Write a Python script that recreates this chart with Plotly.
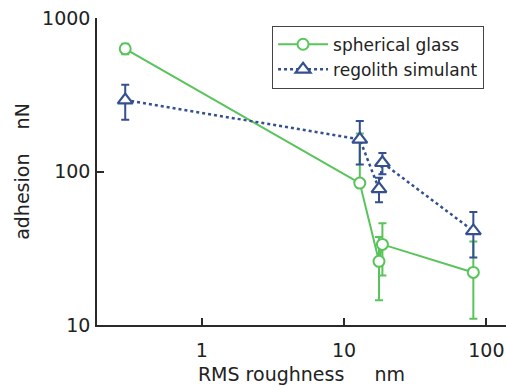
import plotly.graph_objects as go

# data
roughness = [0.29, 12.9, 17.6, 18.6, 81]
glass = [630, 84, 26, 33.5, 22]
glass_err_plus = [50, 93, 11.5, 12.5, 13]
glass_err_minus = [50, 0, 11.5, 12.5, 11]
regolith = [292, 162, 77, 114, 41]
regolith_err = [75, 51, 14, 18, 13.5]

x_tickvals = [1, 10, 100]
x_ticktext = ["1", "10", "100"]
y_tickvals = [10, 100, 1000]
y_ticktext = ["10", "100", "1000"]

GREEN = "#58c45a"
BLUE = "#34508f"
AXIS = "#2a2a2a"
FONT = "DejaVu Sans"

fig = go.Figure()
fig.add_trace(go.Scatter(
    x=roughness, y=glass, name="spherical glass", mode="lines+markers",
    line=dict(color=GREEN, width=2),
    marker=dict(symbol="circle", size=11, color="white", line=dict(color=GREEN, width=2)),
    error_y=dict(type="data", symmetric=False, array=glass_err_plus, arrayminus=glass_err_minus,
                 color=GREEN, thickness=2, width=4),
))
fig.add_trace(go.Scatter(
    x=roughness, y=regolith, name="regolith simulant", mode="lines+markers",
    line=dict(color=BLUE, width=2.5, dash="dot"),
    marker=dict(symbol="triangle-up", size=13, color="white", line=dict(color=BLUE, width=2.2)),
    error_y=dict(type="data", array=regolith_err, color=BLUE, thickness=2, width=4),
))

fig.update_layout(
    width=506, height=389,
    margin=dict(l=97, r=0, t=18, b=64),
    paper_bgcolor="white", plot_bgcolor="white",
    font=dict(family=FONT, size=19, color="#222"),
    showlegend=True,
    legend=dict(x=0.428, y=0.975, xanchor="left", yanchor="top",
                bgcolor="white", bordercolor="#444", borderwidth=1,
                font=dict(size=17, family=FONT, color="#222"),
                itemwidth=50, tracegroupgap=0),
)
fig.update_xaxes(
    type="log", range=[-0.736, 2.138],
    tickvals=x_tickvals, ticktext=x_ticktext,
    ticks="inside", ticklen=7, tickwidth=1.5, tickcolor=AXIS,
    showline=True, linecolor=AXIS, linewidth=1.5, mirror=False,
    showgrid=False, zeroline=False, ticklabelstandoff=7,
    title=dict(text="RMS roughness\u00a0\u00a0\u00a0\u00a0\u00a0nm", font=dict(size=19), standoff=8),
)
fig.update_yaxes(
    type="log", range=[1, 3],
    tickvals=y_tickvals, ticktext=y_ticktext,
    ticks="inside", ticklen=7, tickwidth=1.5, tickcolor=AXIS,
    showline=True, linecolor=AXIS, linewidth=1.5, mirror=False,
    showgrid=False, zeroline=False, ticklabelstandoff=1,
    title=dict(text="adhesion\u00a0\u00a0\u00a0\u00a0nN", font=dict(size=19), standoff=7),
)

fig.write_html("out.html")
